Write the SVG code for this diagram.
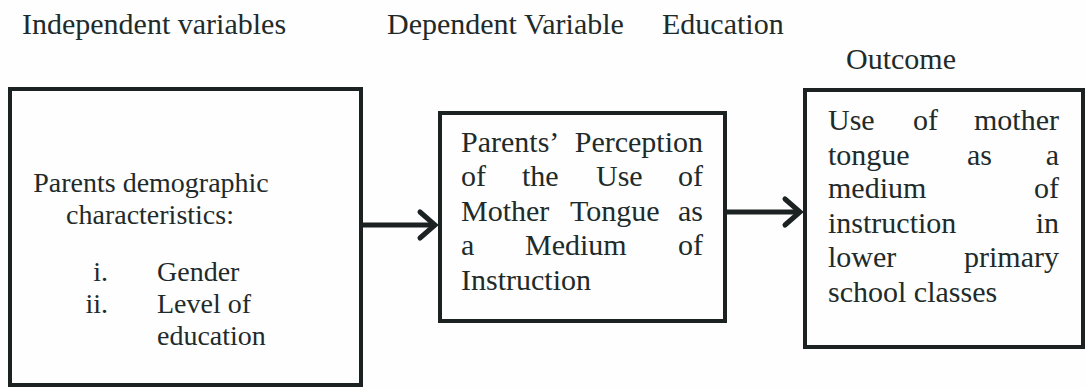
<svg xmlns="http://www.w3.org/2000/svg" width="1086" height="388" viewBox="0 0 1086 388">
<style>
text{font-family:"Liberation Serif","Times New Roman",serif;font-size:30px;fill:#1f2b2b}
.s{font-size:28px}
.box{fill:none;stroke:#1c2222;stroke-width:4}
.e{text-anchor:end}
.m{text-anchor:middle}
.ln{stroke:#1c2222;stroke-width:5;fill:none}
.hd{stroke:#1c2222;stroke-width:5;fill:none;stroke-linecap:round;stroke-linejoin:miter}
</style>
<rect width="1086" height="388" fill="#fdfefd"/>
<g id="labels">
<text x="22" y="34">Independent variables</text>
<text x="387" y="34">Dependent Variable</text>
<text x="662" y="34">Education</text>
<text x="846" y="69">Outcome</text>
</g>
<g id="node-independent">
<rect class="box" x="10" y="89" width="351" height="296"/>
<text class="m s" x="151" y="192">Parents demographic</text>
<text class="m s" x="150" y="224">characteristics:</text>
<text class="e s" x="108" y="281">i.</text>
<text class="s" x="157" y="281">Gender</text>
<text class="e s" x="108" y="313">ii.</text>
<text class="s" x="157" y="313">Level of</text>
<text class="s" x="157" y="345">education</text>
</g>
<g id="node-dependent">
<rect class="box" x="440" y="113" width="285" height="208"/>
<text x="461" y="152">Parents’</text><text class="e" x="703" y="152">Perception</text>
<text x="461" y="186">of</text><text x="522" y="186">the</text><text x="596" y="186">Use</text><text class="e" x="703" y="186">of</text>
<text x="461" y="221">Mother</text><text x="570" y="221">Tongue</text><text class="e" x="703" y="221">as</text>
<text x="461" y="255">a</text><text x="525" y="255">Medium</text><text class="e" x="703" y="255">of</text>
<text x="461" y="290">Instruction</text>
</g>
<g id="node-outcome">
<rect class="box" x="805" y="90" width="278" height="257"/>
<text x="828" y="130">Use</text><text x="913" y="130">of</text><text class="e" x="1059" y="130">mother</text>
<text x="828" y="165">tongue</text><text x="967" y="165">as</text><text class="e" x="1059" y="165">a</text>
<text x="828" y="198">medium</text><text class="e" x="1059" y="198">of</text>
<text x="828" y="233">instruction</text><text class="e" x="1059" y="233">in</text>
<text x="828" y="267">lower</text><text class="e" x="1059" y="267">primary</text>
<text x="828" y="302">school classes</text>
</g>
<g id="connectors">
<line class="ln" x1="363" y1="225" x2="434" y2="225"/>
<polyline class="hd" points="420,212 435,225 420,238"/>
<line class="ln" x1="727" y1="212" x2="799" y2="212"/>
<polyline class="hd" points="785,199 800,212 785,225"/>
</g>
</svg>
